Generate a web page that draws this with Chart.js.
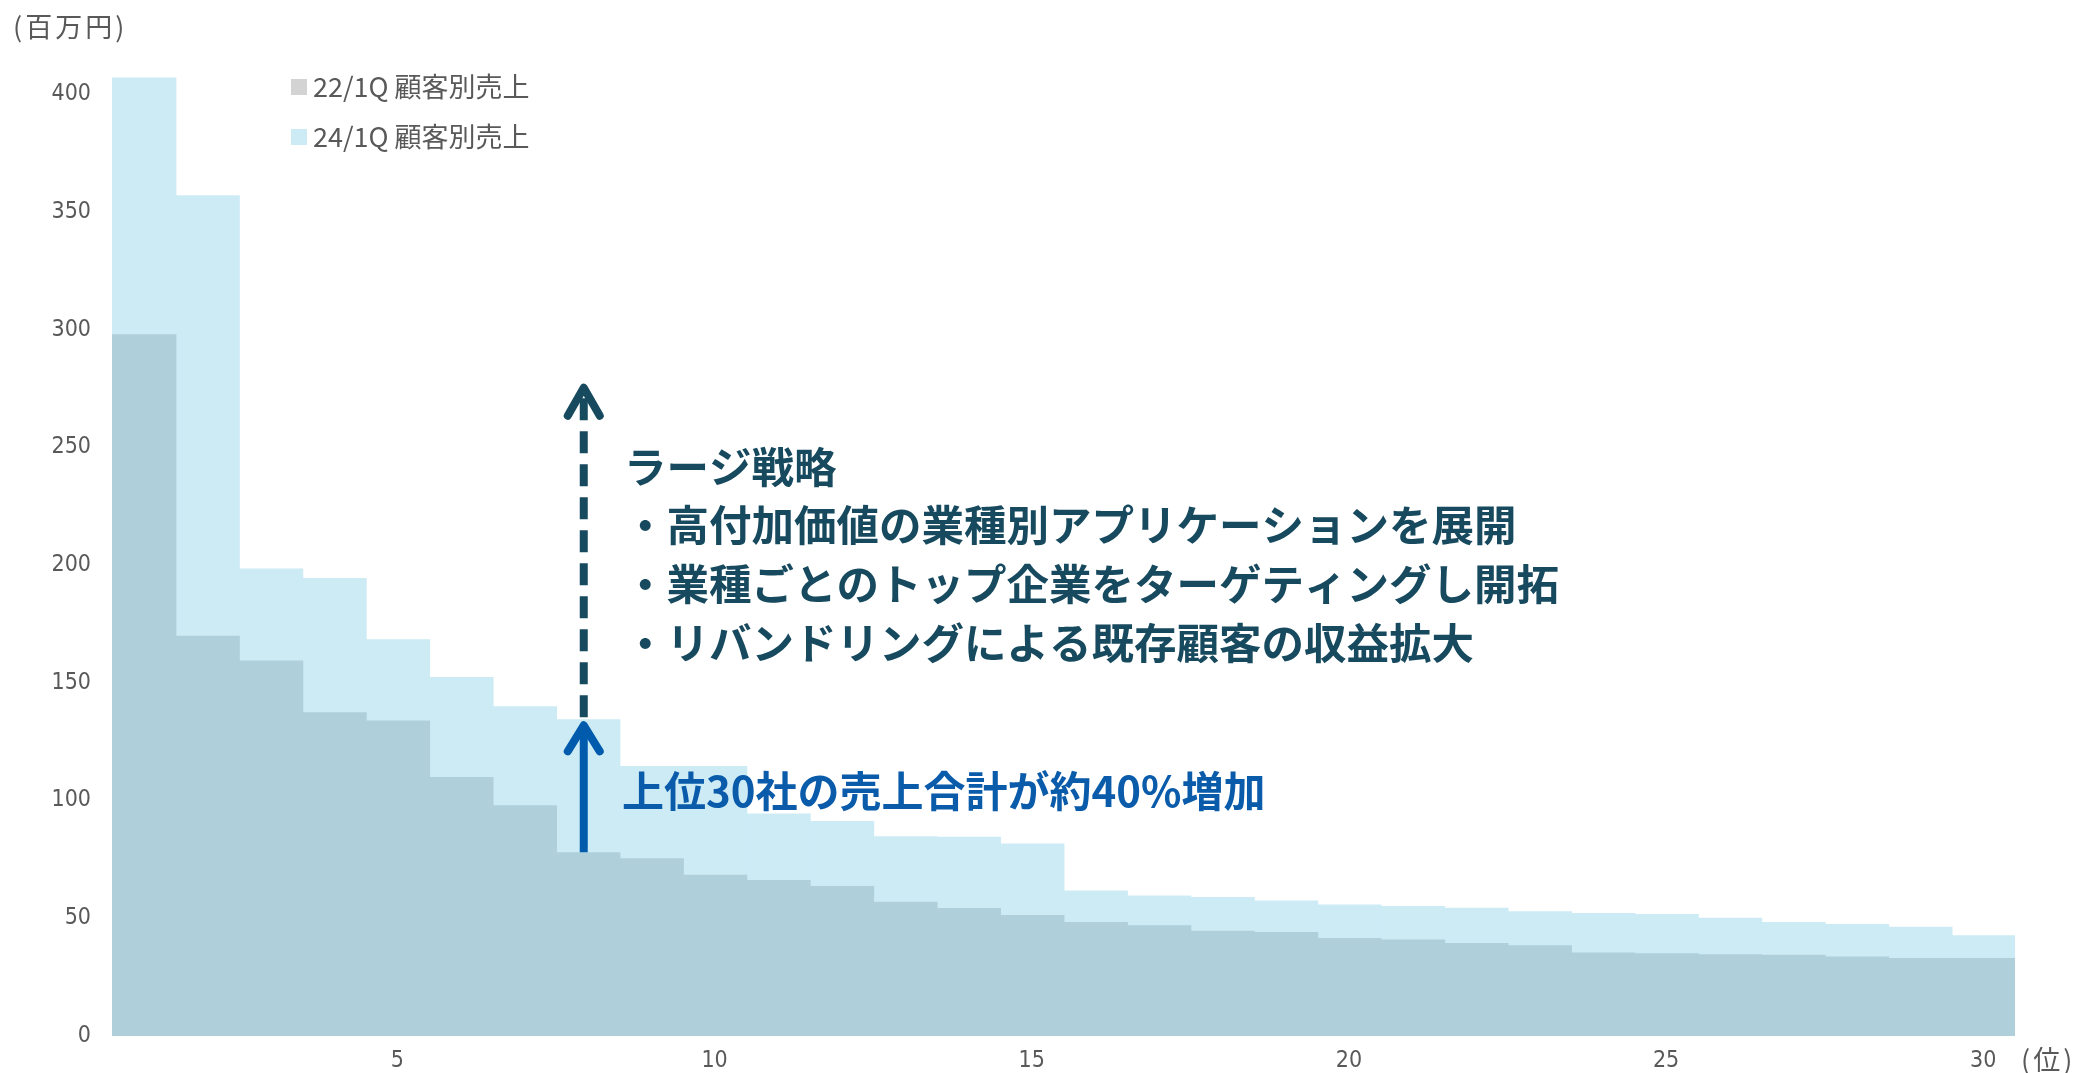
<!DOCTYPE html>
<html><head><meta charset="utf-8">
<script src="https://cdn.jsdelivr.net/npm/chart.js@4/dist/chart.umd.min.js"></script>
<style>html,body{margin:0;padding:0;background:#fff;}#wrap{width:2074px;height:1073px;}</style>
</head><body><div id="wrap"><canvas id="c" width="2074" height="1073"></canvas></div>
<script>
const ranks = [1,2,3,4,5,6,7,8,9,10,11,12,13,14,15,16,17,18,19,20,21,22,23,24,25,26,27,28,29,30];
const xTickLabels = [5,10,15,20,25,30];
const yTickValues = [0,50,100,150,200,250,300,350,400];
const seriesNames = ['22/1Q 顧客別売上','24/1Q 顧客別売上'];
const sales22 = [298,170,159.5,137.5,134,110,98,78,75.5,68.5,66.3,63.7,57,54.4,51.4,48.4,47,44.7,44.2,41.6,41,39.5,38.5,35.5,35.1,34.7,34.5,33.8,33.1,33.1];
const sales24 = [407,357,198.5,194.5,168.5,152.5,140,134.5,114.7,114.7,94.5,91.3,84.8,84.6,81.8,61.8,59.7,59,57.5,55.8,55.2,54.5,53,52.2,51.8,50.2,48.4,47.6,46.4,42.8];
const strategyTitle = 'ラージ戦略';
const strategyLines = ['・高付加価値の業種別アプリケーションを展開','・業種ごとのトップ企業をターゲティングし開拓','・リバンドリングによる既存顧客の収益拡大'];
const growthText = '上位30社の売上合計が約40%増加';
const targetValue = 277;

const TICK_FONT = "'Liberation Sans Narrow','DejaVu Sans Condensed','Noto Sans CJK JP',sans-serif";
const CJK = "'Noto Sans CJK JP','Noto Sans',sans-serif";
const colors22 = '#AFD0DA', colors24 = '#CCEBF5', legend22 = '#D3D3D3';

const annot = {
  id: 'annot',
  afterDatasetsDraw(chart) {
    const ctx = chart.ctx, xs = chart.scales.x, ys = chart.scales.y;
    ctx.save();
    ctx.fillStyle = '#595959';
    ctx.textBaseline = 'middle';
    ctx.textAlign = 'left';
    ctx.font = "27px " + CJK;
    ctx.letterSpacing = '3px';
    ctx.fillText('(百万円)', 13, 27);
    ctx.fillText('(位)', 2021, 1060);
    ctx.letterSpacing = '0px';
    // legend
    const leg = [[legend22, seriesNames[0], 87], [colors24, seriesNames[1], 137]];
    ctx.font = "27px " + CJK;
    leg.forEach(([c, t, y]) => {
      ctx.fillStyle = c; ctx.fillRect(291, y - 8, 16, 16);
      ctx.fillStyle = '#595959'; ctx.fillText(t, 313, y);
    });
    // arrows
    const x = xs.getPixelForValue(7) - 4;
    const yLow = ys.getPixelForValue(sales22[7]);
    const yMid = ys.getPixelForValue(sales24[7]);
    const yTop = ys.getPixelForValue(targetValue);
    ctx.lineWidth = 8;
    ctx.strokeStyle = '#005BAC';
    ctx.lineCap = 'butt';
    ctx.beginPath(); ctx.moveTo(x, yLow); ctx.lineTo(x, yMid + 6); ctx.stroke();
    ctx.lineCap = 'round'; ctx.lineJoin = 'round';
    ctx.beginPath(); ctx.moveTo(x - 16, yMid + 32); ctx.lineTo(x, yMid + 6); ctx.lineTo(x + 16, yMid + 32); ctx.stroke();
    ctx.strokeStyle = '#174A5E';
    ctx.lineCap = 'butt';
    ctx.setLineDash([22, 11]);
    ctx.beginPath(); ctx.moveTo(x, yMid - 2); ctx.lineTo(x, yTop + 10); ctx.stroke();
    ctx.setLineDash([]);
    ctx.lineCap = 'round';
    ctx.beginPath(); ctx.moveTo(x - 16, yTop + 32); ctx.lineTo(x, yTop + 4); ctx.lineTo(x + 16, yTop + 32); ctx.stroke();
    // texts
    ctx.font = "bold 42.5px " + CJK;
    ctx.fillStyle = '#174A5E';
    ctx.fillText(strategyTitle, 624, 467);
    strategyLines.forEach((t, i) => ctx.fillText(t, 624, 525 + i * 59));
    ctx.font = "bold 42px " + CJK;
    ctx.fillStyle = '#0A5BAA';
    ctx.fillText(growthText, 622, 791);
    ctx.restore();
  }
};

new Chart(document.getElementById('c'), {
  type: 'bar',
  data: {
    labels: ranks,
    datasets: [
      { label: seriesNames[0], data: sales22, backgroundColor: colors22, borderWidth: 0, inflateAmount: 0, barPercentage: 1.03, categoryPercentage: 1, grouped: false },
      { label: seriesNames[1], data: sales24, backgroundColor: colors24, borderWidth: 0, inflateAmount: 0, barPercentage: 1.03, categoryPercentage: 1, grouped: false }
    ]
  },
  options: {
    responsive: false, animation: false, devicePixelRatio: 1,
    layout: { padding: { top: 47, right: 59, bottom: 0, left: 0 } },
    plugins: { legend: { display: false }, tooltip: { enabled: false } },
    scales: {
      x: {
        grid: { display: false, drawTicks: false }, border: { display: false },
        ticks: { autoSkip: false, maxRotation: 0, padding: 11, color: '#595959', font: { family: TICK_FONT, size: 23 },
          callback: (v, i) => xTickLabels.includes(ranks[i]) ? String(ranks[i]) : '' },
        afterFit: s => { s.height = 37; }
      },
      y: {
        min: 0, max: 420,
        grid: { display: false, drawTicks: false }, border: { display: false },
        ticks: { padding: 21, color: '#595959', font: { family: TICK_FONT, size: 23 } },
        afterBuildTicks: s => { s.ticks = yTickValues.map(v => ({ value: v })); },
        afterFit: s => { s.width = 112; }
      }
    }
  },
  plugins: [annot]
});
</script></body></html>
